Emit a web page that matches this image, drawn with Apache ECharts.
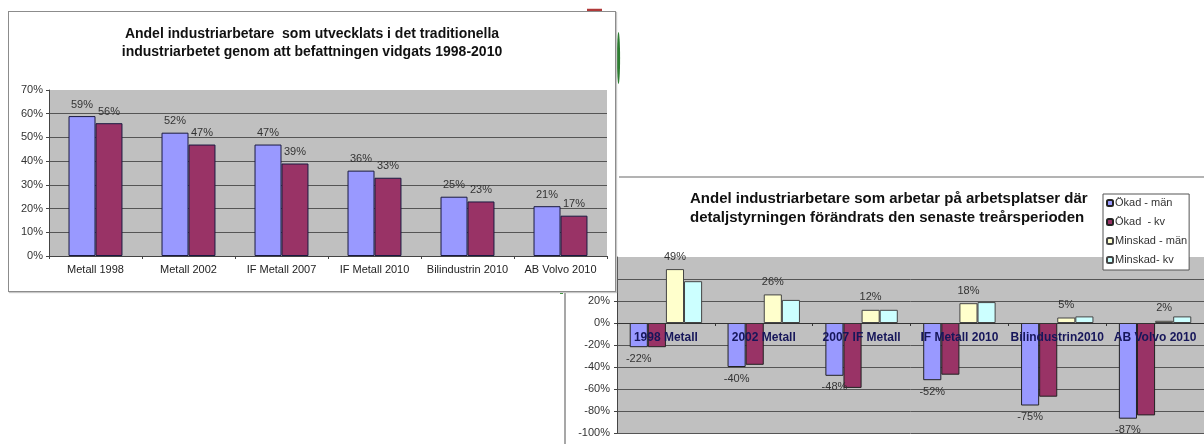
<!DOCTYPE html>
<html><head><meta charset="utf-8">
<script src="https://cdn.jsdelivr.net/npm/echarts@6/dist/echarts.min.js"></script>
<style>
html,body{margin:0;padding:0;background:#fff;width:1204px;height:444px;overflow:hidden}
#right{position:absolute;left:0;top:0;width:1204px;height:444px}
#left{position:absolute;left:8px;top:11px;width:606px;height:279px;border:1px solid #8c8c8c;background:#fff;box-shadow:1px 1px 1px #c8c8c8}
</style></head><body>
<div id="right"></div><div id="left"></div>
<script>
// ---- Left chart data ----
const leftTitle = 'Andel industriarbetare  som utvecklats i det traditionella\nindustriarbetet genom att befattningen vidgats 1998-2010';
const leftCategories = ['Metall 1998', 'Metall 2002', 'IF Metall 2007', 'IF Metall 2010', 'Bilindustrin 2010', 'AB Volvo 2010'];
const leftMen = [59, 52, 47, 36, 25, 21];
const leftWomen = [56, 47, 39, 33, 23, 17];

// ---- Right chart data ----
const rightTitle = 'Andel industriarbetare som arbetar på arbetsplatser där\ndetaljstyrningen förändrats den senaste treårsperioden';
const rightCategories = ['1998 Metall', '2002 Metall', '2007 IF Metall', 'IF Metall 2010', 'Bilindustrin2010', 'AB Volvo 2010'];
const seriesNames = ['Ökad - män', 'Ökad  - kv', 'Minskad - män', 'Minskad- kv'];
const okadMan = [-22, -40, -48, -52, -75, -87];
const okadKv = [-22, -38, -59, -47, -67, -84];
const minskadMan = [49, 26, 12, 18, 5, 2];
const minskadKv = [38, 21, 12, 19, 6, 6];
const rightMin = -100, rightMax = 60, rightStep = 20;

const FONT = '"Liberation Sans", Arial, sans-serif';
const C_PURPLE = '#9999FF', C_MAROON = '#993366', C_YELLOW = '#FFFFCC', C_CYAN = '#CCFFFF';
const GRID_BG = '#C0C0C0', GRID_LINE = '#555';
const pct = p => p.value + '%';

// ---------- Right chart (drawn underneath) ----------
const RG = {left: 617, right: 0, top: 257, bottom: 11};
const rPlotH = 444 - RG.top - RG.bottom;
const zeroOffset = -rPlotH * (0 - rightMin) / (rightMax - rightMin);

const right = echarts.init(document.getElementById('right'), null, {renderer: 'canvas'});
right.setOption({
  animation: false,
  textStyle: {fontFamily: FONT},
  title: {text: rightTitle, left: 690, top: 189, padding: 0,
    textStyle: {fontFamily: FONT, fontSize: 15, fontWeight: 'bold', color: '#111', lineHeight: 19}},
  legend: {
    data: seriesNames, orient: 'vertical', left: 1103, top: 194,
    padding: [2, 2, 3, 3], itemGap: 5, itemWidth: 6, itemHeight: 6,
    backgroundColor: '#fff', borderColor: '#555', borderWidth: 1,
    textStyle: {fontFamily: FONT, fontSize: 11, color: '#333', lineHeight: 14, padding: [0, 0, 0, -3]}
  },
  grid: {left: RG.left, right: RG.right, top: RG.top, bottom: RG.bottom, show: true, backgroundColor: GRID_BG, borderWidth: 0},
  xAxis: {
    type: 'category', data: rightCategories, z: 3,
    position: 'bottom', offset: zeroOffset,
    axisLine: {onZero: false, lineStyle: {color: '#333', width: 1}},
    axisTick: {show: true, length: 3, lineStyle: {color: '#333'}},
    axisLabel: {interval: 0, fontFamily: FONT, fontSize: 12, fontWeight: 'bold', color: '#16165a', margin: 9}
  },
  yAxis: {
    type: 'value', min: rightMin, max: rightMax, interval: rightStep,
    axisLine: {show: true, lineStyle: {color: '#444'}},
    axisTick: {show: true, length: 3, lineStyle: {color: '#444'}},
    axisLabel: {formatter: '{value}%', fontFamily: FONT, fontSize: 11, color: '#333', margin: 7},
    splitLine: {show: true, showMaxLine: false, lineStyle: {color: GRID_LINE, width: 1}}
  },
  series: [
    {name: seriesNames[0], type: 'bar', data: okadMan, barGap: 0, barCategoryGap: '26%',
     itemStyle: {color: C_PURPLE, borderColor: '#222', borderWidth: 1},
     label: {show: true, position: 'bottom', distance: 6, formatter: pct, fontFamily: FONT, fontSize: 11, color: '#333'}},
    {name: seriesNames[1], type: 'bar', data: okadKv,
     itemStyle: {color: C_MAROON, borderColor: '#222', borderWidth: 1}},
    {name: seriesNames[2], type: 'bar', data: minskadMan,
     itemStyle: {color: C_YELLOW, borderColor: '#444', borderWidth: 1},
     label: {show: true, position: 'top', distance: 7, formatter: pct, fontFamily: FONT, fontSize: 11, color: '#333'}},
    {name: seriesNames[3], type: 'bar', data: minskadKv,
     itemStyle: {color: C_CYAN, borderColor: '#444', borderWidth: 1}}
  ],
  graphic: [
    {type: 'line', shape: {x1: 619, y1: 177, x2: 1204, y2: 177}, style: {stroke: '#9a9a9a', lineWidth: 1.5}},
    {type: 'line', shape: {x1: 565, y1: 293, x2: 565, y2: 444}, style: {stroke: '#8a8a8a', lineWidth: 1.5}},
    {type: 'line', shape: {x1: 587, y1: 10, x2: 602, y2: 10}, style: {stroke: '#b03a3a', lineWidth: 2.5}},
    {type: 'ellipse', shape: {cx: 618.5, cy: 58, rx: 1.6, ry: 26}, style: {fill: '#2e7d32'}},
    {type: 'rect', shape: {x: 560, y: 291, width: 3, height: 3}, style: {fill: '#2a8a2a'}}
  ]
});

// ---------- Left chart (on top) ----------
const left = echarts.init(document.getElementById('left'), null, {renderer: 'canvas'});
left.setOption({
  animation: false,
  backgroundColor: '#fff',
  textStyle: {fontFamily: FONT},
  title: {text: leftTitle, left: 'center', top: 13, padding: 0,
    textStyle: {fontFamily: FONT, fontSize: 14, fontWeight: 'bold', color: '#111', lineHeight: 18}},
  grid: {left: 40, right: 8, top: 78, bottom: 35, show: true, backgroundColor: GRID_BG, borderWidth: 0},
  xAxis: {
    type: 'category', data: leftCategories,
    axisLine: {lineStyle: {color: '#444'}},
    axisTick: {show: true, length: 3, lineStyle: {color: '#444'}},
    axisLabel: {interval: 0, fontFamily: FONT, fontSize: 11, color: '#222', margin: 8}
  },
  yAxis: {
    type: 'value', min: 0, max: 70, interval: 10,
    axisLine: {show: true, lineStyle: {color: '#444'}},
    axisTick: {show: true, length: 3, lineStyle: {color: '#444'}},
    axisLabel: {formatter: '{value}%', fontFamily: FONT, fontSize: 11, color: '#333', margin: 6},
    splitLine: {show: true, showMaxLine: false, lineStyle: {color: GRID_LINE, width: 1}}
  },
  series: [
    {type: 'bar', data: leftMen, barGap: 0, barCategoryGap: '42%',
     itemStyle: {color: C_PURPLE, borderColor: '#1a1a40', borderWidth: 1},
     label: {show: true, position: 'top', distance: 6, formatter: pct, fontFamily: FONT, fontSize: 11, color: '#333'}},
    {type: 'bar', data: leftWomen,
     itemStyle: {color: C_MAROON, borderColor: '#1a1a40', borderWidth: 1},
     label: {show: true, position: 'top', distance: 6, formatter: pct, fontFamily: FONT, fontSize: 11, color: '#333'}}
  ]
});
</script>
</body></html>
